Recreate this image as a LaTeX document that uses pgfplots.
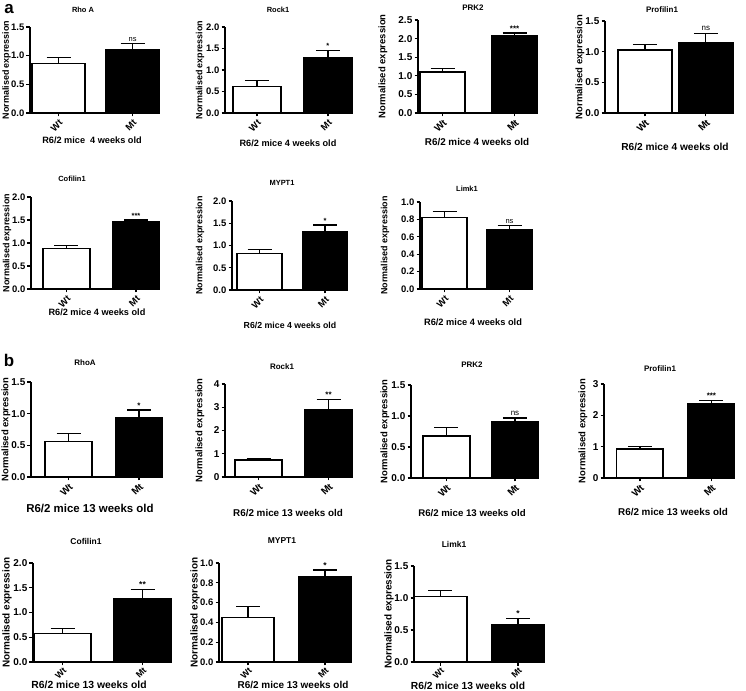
\documentclass[border=0pt]{standalone}
\usepackage{pgfplots}
\pgfplotsset{compat=1.18}
\usepackage{fontspec}
\setmainfont{Liberation Sans}
\newcommand{\setf}[4]{\def\ftick{#1}\def\fyl{#2}\def\fti{#3}\def\fxl{#4}}
\setf{9.5}{9}{7.5}{9.2}
\newcommand{\tf}{\bfseries\fontsize{\ftick}{\ftick}\selectfont}
\pgfplotsset{
 pp/.style={
  scale only axis, clip=false,
  axis x line*=bottom, axis y line*=left,
  axis line style={line width=1.3bp},
  ymin=0, xtick={1,2}, xticklabels={Wt,Mt},
  tick align=outside, major tick length=3.5bp,
  tick style={line width=1.3bp, black},
  /pgf/number format/assume math mode=true,
  x tick label style={rotate=45, anchor=north east, font=\tf, inner sep=1.5bp},
  y tick label style={font=\tf, inner sep=2bp},
  yticklabel style={/pgf/number format/.cd, fixed, fixed zerofill, precision=1},
 },
 intt/.style={yticklabel style={/pgf/number format/.cd, fixed, precision=0}},
 smallx/.style={x tick label style={font=\bfseries\fontsize{9}{9}\selectfont, inner sep=1bp}},
 wt/.style={ybar, bar shift=0pt, fill=white, draw=black, line width=1.5bp,
   error bars/y dir=plus, error bars/y explicit,
   error bars/error bar style={line width=1.3bp, black},
   error bars/error mark options={rotate=90, line width=1.3bp, mark size=12bp, black}},
 mt/.style={wt, fill=black},
}
\tikzset{
 ttl/.style={font=\bfseries\fontsize{\fti}{\fti}\selectfont, inner sep=0pt},
 xl/.style={font=\bfseries\fontsize{\fxl}{\fxl}\selectfont, inner sep=0pt},
 yl/.style={font=\bfseries\fontsize{\fyl}{\fyl}\selectfont, rotate=90, inner sep=0pt},
 sig/.style={font=\fontsize{\fti}{\fti}\selectfont, anchor=south, inner sep=2bp},
 sigb/.style={font=\bfseries\fontsize{\fti}{\fti}\selectfont, anchor=south, inner sep=1.5bp},
}
\begin{document}
\begin{tikzpicture}
\path[use as bounding box] (0,0) rectangle (746bp,691bp);
% panel letters
\node[font=\bfseries\fontsize{17}{17}\selectfont, inner sep=0pt] at (9bp,682bp) {a};
\node[font=\bfseries\fontsize{17}{17}\selectfont, inner sep=0pt] at (9bp,331bp) {b};

% ---------- P1 Rho A ----------
\setf{9.5}{9}{7.5}{9.2}
\begin{axis}[pp, at={(30bp,578bp)}, anchor=south west, width=130bp, height=86bp,
  xmin=0.615, xmax=2.37, ymax=1.5, ytick={0,0.5,1,1.5}]
\addplot[wt, bar width=0.72] coordinates {(1,0.86) +- (0,0.11)};
\addplot[mt, bar width=0.72] coordinates {(2,1.11) +- (0,0.10)};
\node[sig] at (axis cs:2,1.21) {ns};
\end{axis}
\node[ttl] at (83bp,681bp) {Rho A};
\node[xl] at (92bp,551bp) {R6/2 mice \ 4 weeks old};
\node[yl] at (6.5bp,621bp) {Normalised expression};

% ---------- P2 Rock1 ----------
\setf{9.5}{9}{7.5}{9.2}
\begin{axis}[pp, at={(225bp,578bp)}, anchor=south west, width=127bp, height=86bp,
  xmin=0.55, xmax=2.34, ymax=2, ytick={0,0.5,1,1.5,2}]
\addplot[wt, bar width=0.68] coordinates {(1,0.62) +- (0,0.13)};
\addplot[mt, bar width=0.68] coordinates {(2,1.29) +- (0,0.17)};
\node[sigb] at (axis cs:2,1.46) {*};
\end{axis}
\node[ttl] at (278bp,681bp) {Rock1};
\node[xl] at (288bp,548bp) {R6/2 mice 4 weeks old};
\node[yl] at (200bp,621bp) {Normalised expression};

% ---------- P3 PRK2 ----------
\setf{10}{9.5}{8}{9.9}
\begin{axis}[pp, at={(418bp,578bp)}, anchor=south west, width=119bp, height=93bp,
  xmin=0.66, xmax=2.31, ymax=2.5, ytick={0,0.5,1,1.5,2,2.5}]
\addplot[wt, bar width=0.63] coordinates {(1,1.10) +- (0,0.10)};
\addplot[mt, bar width=0.63] coordinates {(2,2.08) +- (0,0.07)};
\node[sigb] at (axis cs:2,2.15) {***};
\end{axis}
\node[ttl] at (473bp,683bp) {PRK2};
\node[xl] at (477bp,549bp) {R6/2 mice 4 weeks old};
\node[yl] at (383bp,624.5bp) {Normalised expression};

% ---------- P4 Profilin1 ----------
\setf{10}{9.5}{8}{10.2}
\begin{axis}[pp, at={(605bp,578bp)}, anchor=south west, width=127bp, height=92bp,
  xmin=0.344, xmax=2.43, ymax=1.5, ytick={0,0.5,1,1.5}]
\addplot[wt, bar width=0.89] coordinates {(1,1.03) +- (0,0.09)};
\addplot[mt, bar width=0.89] coordinates {(2,1.14) +- (0,0.16)};
\node[sig] at (axis cs:2,1.30) {ns};
\end{axis}
\node[ttl] at (662bp,681bp) {Profilin1};
\node[xl] at (675bp,544bp) {R6/2 mice 4 weeks old};
\node[yl] at (580bp,624bp) {Normalised expression};

% ---------- P5 Cofilin1 ----------
\setf{9.5}{9}{7.5}{9.2}
\begin{axis}[pp, at={(31bp,402bp)}, anchor=south west, width=129bp, height=92bp,
  xmin=0.49, xmax=2.345, ymax=2, ytick={0,0.5,1,1.5,2}]
\addplot[wt, bar width=0.68] coordinates {(1,0.885) +- (0,0.065)};
\addplot[mt, bar width=0.68] coordinates {(2,1.46) +- (0,0.04)};
\node[sigb] at (axis cs:2,1.50) {***};
\end{axis}
\node[ttl] at (72bp,512bp) {Cofilin1};
\node[xl] at (97bp,379bp) {R6/2 mice 4 weeks old};
\node[yl] at (7bp,448bp) {Normalised expression};

% ---------- P6 MYPT1 ----------
\setf{9.5}{9}{7.5}{8.8}
\begin{axis}[pp, at={(232bp,401bp)}, anchor=south west, width=116bp, height=89bp,
  xmin=0.58, xmax=2.35, ymax=2, ytick={0,0.5,1,1.5,2}]
\addplot[wt, bar width=0.69] coordinates {(1,0.82) +- (0,0.09)};
\addplot[mt, bar width=0.69] coordinates {(2,1.31) +- (0,0.15)};
\node[sigb] at (axis cs:2,1.46) {*};
\end{axis}
\node[ttl] at (282bp,508bp) {MYPT1};
\node[xl] at (290bp,366bp) {R6/2 mice 4 weeks old};
\node[yl] at (200bp,445.5bp) {Normalised expression};

% ---------- P7 Limk1 ----------
\setf{9.5}{9}{7.5}{9.3}
\begin{axis}[pp, at={(420bp,402bp)}, anchor=south west, width=112bp, height=87bp,
  xmin=0.623, xmax=2.346, ymax=1, ytick={0,0.2,0.4,0.6,0.8,1}]
\addplot[wt, bar width=0.69] coordinates {(1,0.82) +- (0,0.07)};
\addplot[mt, bar width=0.69] coordinates {(2,0.685) +- (0,0.045)};
\node[sig] at (axis cs:2,0.73) {ns};
\end{axis}
\node[ttl] at (467bp,502bp) {Limk1};
\node[xl] at (473bp,369bp) {R6/2 mice 4 weeks old};
\node[yl] at (385bp,445.5bp) {Normalised expression};

% ---------- P8 RhoA (13 w) ----------
\setf{10}{9.5}{8}{11.5}
\begin{axis}[pp, at={(31bp,214bp)}, anchor=south west, width=132bp, height=95bp,
  xmin=0.468, xmax=2.34, ymax=1.5, ytick={0,0.5,1,1.5}]
\addplot[wt, bar width=0.67] coordinates {(1,0.56) +- (0,0.13)};
\addplot[mt, bar width=0.67] coordinates {(2,0.93) +- (0,0.13)};
\node[sigb] at (axis cs:2,1.06) {*};
\end{axis}
\node[ttl] at (85bp,328bp) {RhoA};
\node[xl] at (90bp,183bp) {R6/2 mice 13 weeks old};
\node[yl] at (6bp,261.5bp) {Normalised expression};

% ---------- P9 Rock1 (13 w) ----------
\setf{10}{9.5}{8}{9.9}
\begin{axis}[pp, intt, at={(225bp,214bp)}, anchor=south west, width=127bp, height=93bp,
  xmin=0.52, xmax=2.336, ymax=4, ytick={0,1,2,3,4}]
\addplot[wt, bar width=0.67] coordinates {(1,0.73) +- (0,0.08)};
\addplot[mt, bar width=0.67] coordinates {(2,2.88) +- (0,0.46)};
\node[sigb] at (axis cs:2,3.34) {**};
\end{axis}
\node[ttl] at (282bp,324bp) {Rock1};
\node[xl] at (288bp,178bp) {R6/2 mice 13 weeks old};
\node[yl] at (200bp,260.5bp) {Normalised expression};

% ---------- P10 PRK2 (13 w) ----------
\setf{10}{9.5}{8}{9.7}
\begin{axis}[pp, at={(411bp,213bp)}, anchor=south west, width=127bp, height=93bp,
  xmin=0.482, xmax=2.336, ymax=1.5, ytick={0,0.5,1,1.5}]
\addplot[wt, bar width=0.68] coordinates {(1,0.68) +- (0,0.13)};
\addplot[mt, bar width=0.68] coordinates {(2,0.90) +- (0,0.07)};
\node[sig] at (axis cs:2,0.97) {ns};
\end{axis}
\node[ttl] at (472bp,326bp) {PRK2};
\node[xl] at (472bp,178bp) {R6/2 mice 13 weeks old};
\node[yl] at (385bp,259.5bp) {Normalised expression};

% ---------- P11 Profilin1 (13 w) ----------
\setf{10}{9.5}{8}{9.9}
\begin{axis}[pp, intt, at={(604bp,213bp)}, anchor=south west, width=131bp, height=94bp,
  xmin=0.497, xmax=2.33, ymax=3, ytick={0,1,2,3}]
\addplot[wt, bar width=0.65] coordinates {(1,0.93) +- (0,0.07)};
\addplot[mt, bar width=0.65] coordinates {(2,2.37) +- (0,0.11)};
\node[sigb] at (axis cs:2,2.48) {***};
\end{axis}
\node[ttl] at (660bp,322bp) {Profilin1};
\node[xl] at (673bp,179bp) {R6/2 mice 13 weeks old};
\node[yl] at (583bp,260bp) {Normalised expression};

% ---------- P12 Cofilin1 (13 w) ----------
\setf{10}{10}{8.5}{10.4}
\begin{axis}[pp, smallx, at={(33bp,29bp)}, anchor=south west, width=138bp, height=99bp,
  xmin=0.63, xmax=2.356, ymax=2, ytick={0,0.5,1,1.5,2}]
\addplot[wt, bar width=0.71] coordinates {(1,0.58) +- (0,0.10)};
\addplot[mt, bar width=0.71] coordinates {(2,1.28) +- (0,0.19)};
\node[sigb] at (axis cs:2,1.47) {**};
\end{axis}
\node[ttl] at (86bp,150bp) {Cofilin1};
\node[xl] at (89bp,6bp) {R6/2 mice 13 weeks old};
\node[yl] at (7bp,78.5bp) {Normalised expression};

% ---------- P13 MYPT1 (13 w) ----------
\setf{9.5}{10}{8.5}{10}
\begin{axis}[pp, smallx, at={(219bp,29bp)}, anchor=south west, width=131bp, height=99bp,
  xmin=0.623, xmax=2.325, ymax=1, ytick={0,0.2,0.4,0.6,0.8,1}]
\addplot[wt, bar width=0.675] coordinates {(1,0.45) +- (0,0.11)};
\addplot[mt, bar width=0.675] coordinates {(2,0.865) +- (0,0.065)};
\node[sigb] at (axis cs:2,0.93) {*};
\end{axis}
\node[ttl] at (282bp,150bp) {MYPT1};
\node[xl] at (293bp,6bp) {R6/2 mice 13 weeks old};
\node[yl] at (195bp,78.5bp) {Normalised expression};

% ---------- P14 Limk1 (13 w) ----------
\setf{10}{10}{8.5}{10.3}
\begin{axis}[pp, smallx, at={(414bp,29bp)}, anchor=south west, width=131bp, height=96bp,
  xmin=0.66, xmax=2.346, ymax=1.5, ytick={0,0.5,1,1.5}]
\addplot[wt, bar width=0.68] coordinates {(1,1.02) +- (0,0.10)};
\addplot[mt, bar width=0.68] coordinates {(2,0.58) +- (0,0.10)};
\node[sigb] at (axis cs:2,0.68) {*};
\end{axis}
\node[ttl] at (454bp,147bp) {Limk1};
\node[xl] at (468bp,5bp) {R6/2 mice 13 weeks old};
\node[yl] at (389bp,77bp) {Normalised expression};
\end{tikzpicture}
\end{document}
